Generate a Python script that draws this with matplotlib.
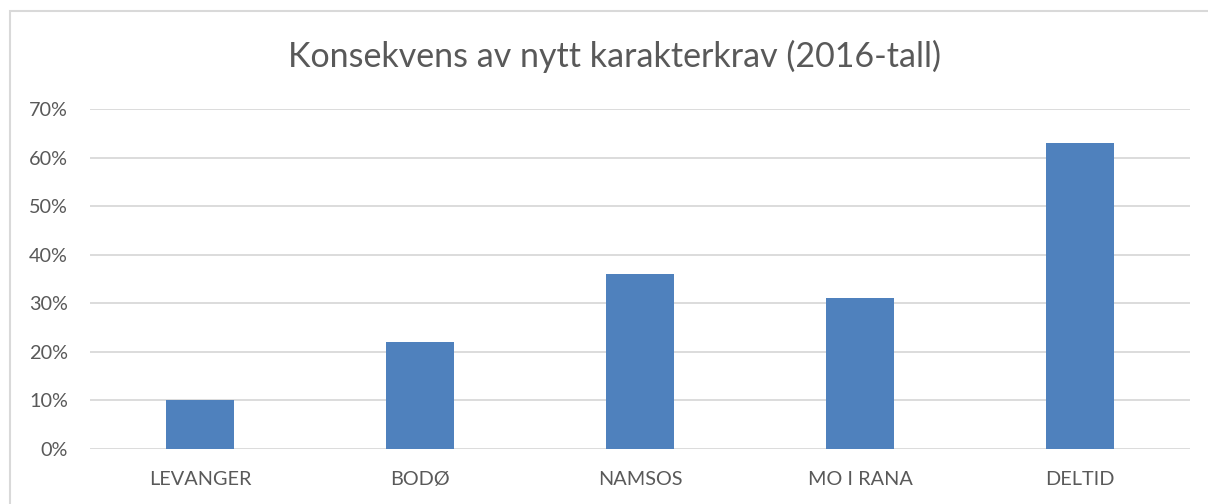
import matplotlib.pyplot as plt
import matplotlib.ticker as mticker
from matplotlib.patches import Rectangle

plt.rcParams['font.family'] = ['Lato', 'DejaVu Sans']

TEXT = "#595959"
GRID = "#D9D9D9"
BLUE = "#4F81BD"

categories = ['LEVANGER', 'BODØ', 'NAMSOS', 'MO I RANA', 'DELTID']
shares = [0.10, 0.22, 0.36, 0.31, 0.63]
yticks = [0.0, 0.1, 0.2, 0.3, 0.4, 0.5, 0.6, 0.7]

fig = plt.figure(figsize=(12.08, 5.04), dpi=100)
W, H = 1208, 504

# chart frame, cut off on the right and bottom
fig.patches.append(Rectangle((9.5 / W, -0.1), 1.2, (H - 10.5) / H + 0.1,
                             transform=fig.transFigure, fill=False,
                             edgecolor=GRID, linewidth=1.5))

ax = fig.add_axes([90 / W, (H - 449) / H, 1100 / W, 340 / H])
x = range(len(categories))
ax.bar(x, shares, width=0.31, color=BLUE, zorder=3)
ax.set_xlim(-0.5, len(categories) - 0.5)
ax.set_ylim(0, 0.7)
ax.set_yticks(yticks)
ax.yaxis.set_major_formatter(mticker.PercentFormatter(1.0, decimals=0))
ax.set_xticks(list(x))
ax.set_xticklabels(categories)
ax.grid(axis='y', color=GRID, linewidth=1.3, zorder=0)
for s in ax.spines.values():
    s.set_visible(False)
ax.tick_params(length=0, colors=TEXT, labelsize=14.3)
ax.tick_params(axis='y', pad=16)
ax.tick_params(axis='x', pad=16)

fig.text(615 / W, 1 - 56 / H, 'Konsekvens av nytt karakterkrav (2016-tall)',
         ha='center', va='center', fontsize=24.5, color=TEXT)

fig.savefig('out.png', dpi=100, facecolor='white')
